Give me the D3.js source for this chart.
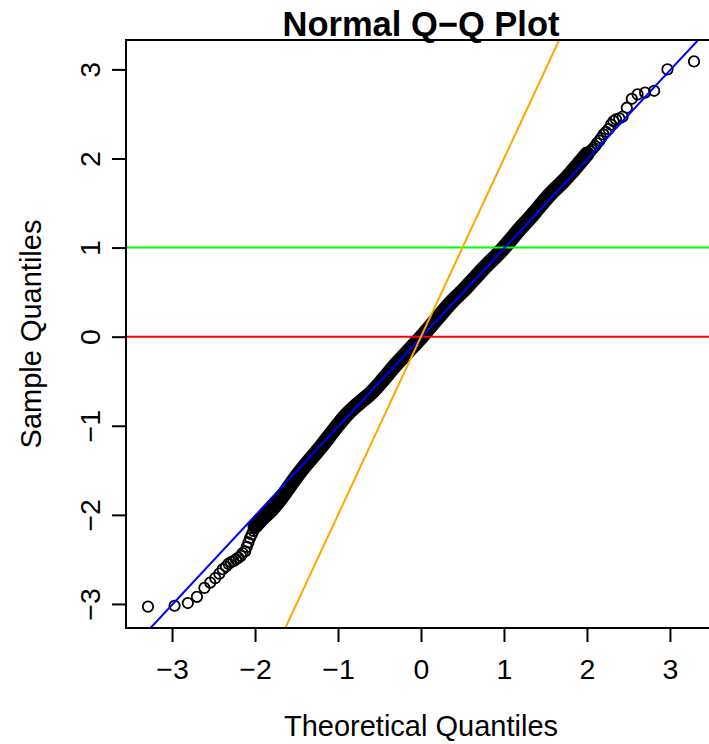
<!DOCTYPE html>
<html>
<head>
<meta charset="utf-8">
<script src="https://cdn.jsdelivr.net/npm/d3@7"></script>
<style>
  body { margin: 0; background: #fff; }
  text { font-family: "Liberation Sans", Arial, Helvetica, sans-serif; fill: #000; }
</style>
</head>
<body>
<script>
//data
var xTicks = [-3, -2, -1, 0, 1, 2, 3];
var yTicks = [-3, -2, -1, 0, 1, 2, 3];

//lower tail, single circles
var lowTheo = [-3.29, -2.97, -2.81, -2.70, -2.61, -2.54, -2.48, -2.43, -2.39, -2.35, -2.32, -2.29,
  -2.26, -2.23, -2.20, -2.17, -2.15, -2.12, -2.10, -2.08, -2.06, -2.04, -2.02, -2.00];
var lowSample = [-3.03, -3.02, -2.99, -2.92, -2.82, -2.76, -2.71, -2.66, -2.61, -2.58, -2.55, -2.53,
  -2.52, -2.50, -2.48, -2.46, -2.43, -2.41, -2.36, -2.31, -2.26, -2.22, -2.18, -2.14];

//upper tail, single circles
var highTheo = [3.29, 2.97, 2.81, 2.70, 2.61, 2.54, 2.48, 2.43, 2.39, 2.35, 2.32, 2.29,
  2.26, 2.23, 2.20, 2.17, 2.15, 2.12, 2.10, 2.08, 2.06, 2.04, 2.02, 2.00];
var highSample = [3.09, 3.00, 2.76, 2.74, 2.72, 2.67, 2.57, 2.47, 2.45, 2.44, 2.42, 2.38,
  2.33, 2.30, 2.27, 2.23, 2.20, 2.17, 2.14, 2.12, 2.10, 2.08, 2.06, 2.04];

//middle: circles overlap into a solid band, traced along its centre
var bandTheo = [-2.0, -1.9, -1.8, -1.7, -1.6, -1.5, -1.4, -1.3, -1.2, -1.1, -1.0, -0.9, -0.8, -0.7,
  -0.6, -0.5, -0.4, -0.3, -0.2, -0.1, 0.0, 0.1, 0.2, 0.3, 0.4, 0.5, 0.6, 0.7, 0.8, 0.9, 1.0,
  1.1, 1.2, 1.3, 1.4, 1.5, 1.6, 1.7, 1.8, 1.9, 2.0];
var bandSample = [-2.13, -2.03, -1.94, -1.83, -1.70, -1.57, -1.45, -1.34, -1.23, -1.11, -0.99, -0.88,
  -0.79, -0.71, -0.63, -0.53, -0.42, -0.31, -0.21, -0.11, -0.01, 0.10, 0.21, 0.32, 0.42, 0.51,
  0.61, 0.71, 0.81, 0.90, 1.00, 1.11, 1.22, 1.32, 1.43, 1.54, 1.64, 1.73, 1.83, 1.94, 2.05];

//reference lines: [intercept, slope]
var qqLine = [-0.01, 1.0];
var steepLine = [0, 2];
var hLines = [0, 1];

//layout
var W = 709, H = 744;
var plot = { left: 126, right: 716, top: 40, bottom: 628 };

var x = d3.scaleLinear().domain([-3.555, 3.555]).range([plot.left, plot.right]);
var y = d3.scaleLinear().domain([-3.27, 3.33]).range([plot.bottom, plot.top]);

var svg = d3.select('body').append('svg')
  .attr('width', W)
  .attr('height', H);

svg.append('defs').append('clipPath')
  .attr('id', 'clip')
  .append('rect')
  .attr('x', plot.left).attr('y', plot.top)
  .attr('width', plot.right - plot.left)
  .attr('height', plot.bottom - plot.top);

var g = svg.append('g').attr('clip-path', 'url(#clip)');

//band of overlapping points
var band = bandTheo.map(function(t, i) { return [t, bandSample[i]]; });
g.append('path')
  .datum(band)
  .attr('d', d3.line().x(function(d) { return x(d[0]); }).y(function(d) { return y(d[1]); }).curve(d3.curveCatmullRom))
  .attr('fill', 'none')
  .attr('stroke', '#000')
  .attr('stroke-width', 15)
  .attr('stroke-linejoin', 'round')
  .attr('stroke-linecap', 'round');

var pts = lowTheo.map(function(t, i) { return [t, lowSample[i]]; })
  .concat(highTheo.map(function(t, i) { return [t, highSample[i]]; }));

g.selectAll('circle.pt')
  .data(pts)
  .enter()
  .append('circle')
  .attr('class', 'pt')
  .attr('cx', function(d) { return x(d[0]); })
  .attr('cy', function(d) { return y(d[1]); })
  .attr('r', 5.2)
  .attr('fill', 'none')
  .attr('stroke', '#000')
  .attr('stroke-width', 1.8);

//abline helper
function abline(ab, colour) {
  var x0 = x.domain()[0], x1 = x.domain()[1];
  g.append('line')
    .attr('x1', x(x0)).attr('y1', y(ab[0] + ab[1] * x0))
    .attr('x2', x(x1)).attr('y2', y(ab[0] + ab[1] * x1))
    .attr('stroke', colour)
    .attr('stroke-width', 2);
}

abline([hLines[0], 0], '#ff0000');
abline([hLines[1], 0], '#00ff00');
abline(qqLine, '#0000ff');
abline(steepLine, '#ffa500');

//box
svg.append('rect')
  .attr('x', plot.left).attr('y', plot.top)
  .attr('width', plot.right - plot.left)
  .attr('height', plot.bottom - plot.top)
  .attr('fill', 'none')
  .attr('stroke', '#000')
  .attr('stroke-width', 2);

//axes
var fmt = function(d) { return d < 0 ? '\u2212' + Math.abs(d) : '' + d; };

var xAxis = svg.append('g')
  .attr('transform', 'translate(0,' + plot.bottom + ')')
  .call(d3.axisBottom(x).tickValues(xTicks).tickSize(14).tickFormat(fmt));
xAxis.select('.domain').remove();
xAxis.selectAll('line').attr('stroke', '#000').attr('stroke-width', 2);
xAxis.selectAll('text')
  .attr('dy', 0)
  .attr('y', 51)
  .style('font-size', '28.5px')
  .style('font-family', '"Liberation Sans", Arial, sans-serif');

var yAxis = svg.append('g')
  .attr('transform', 'translate(' + plot.left + ',0)')
  .call(d3.axisLeft(y).tickValues(yTicks).tickSize(14).tickFormat(fmt));
yAxis.select('.domain').remove();
yAxis.selectAll('line').attr('stroke', '#000').attr('stroke-width', 2);
yAxis.selectAll('text')
  .attr('x', null).attr('dy', null)
  .attr('text-anchor', 'middle')
  .attr('transform', 'translate(-26,0) rotate(-90)')
  .style('font-size', '28.5px')
  .style('font-family', '"Liberation Sans", Arial, sans-serif');

//titles
svg.append('text')
  .attr('x', (plot.left + plot.right) / 2)
  .attr('y', 36)
  .attr('text-anchor', 'middle')
  .style('font-size', '34.5px')
  .style('font-weight', 'bold')
  .text('Normal Q\u2212Q Plot');

svg.append('text')
  .attr('x', (plot.left + plot.right) / 2)
  .attr('y', 736)
  .attr('text-anchor', 'middle')
  .style('font-size', '29px')
  .text('Theoretical Quantiles');

svg.append('text')
  .attr('transform', 'translate(41,' + (plot.top + plot.bottom) / 2 + ') rotate(-90)')
  .attr('text-anchor', 'middle')
  .style('font-size', '29px')
  .text('Sample Quantiles');
</script>
</body>
</html>
